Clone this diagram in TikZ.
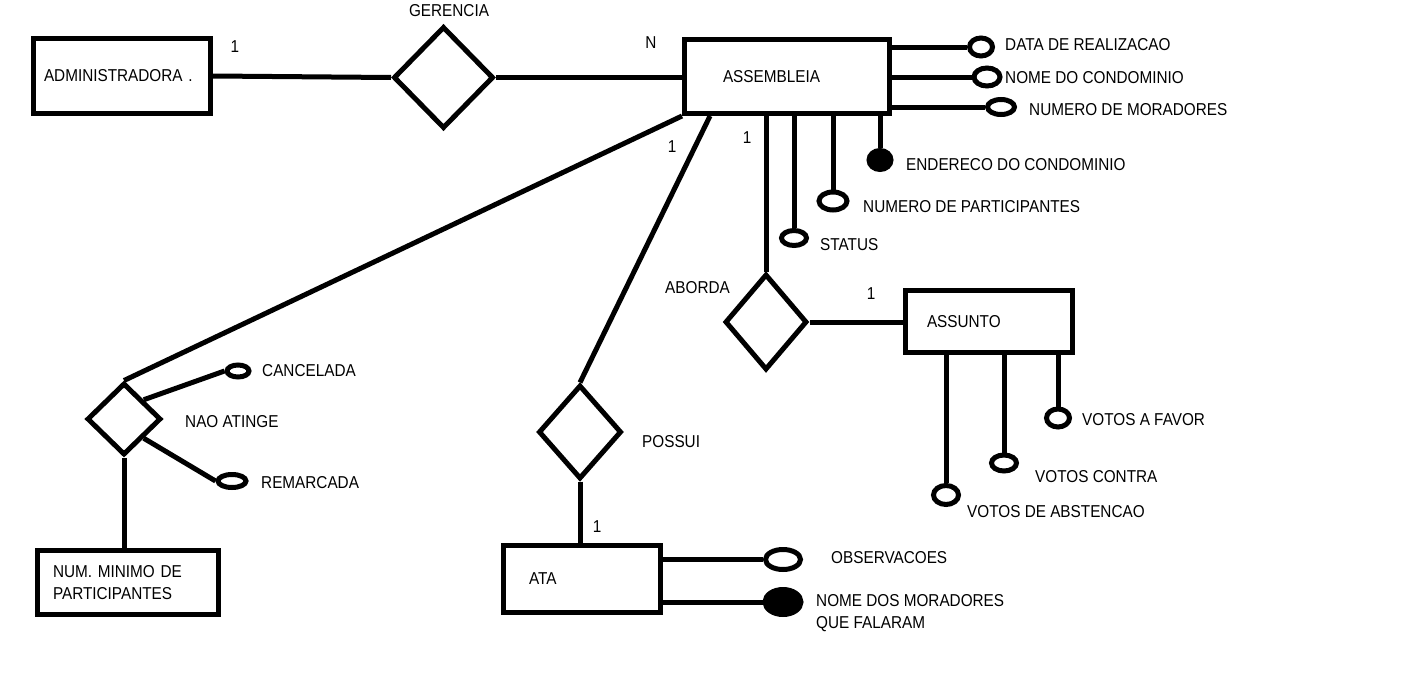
\documentclass[tikz,border=0pt]{standalone}
\usepackage{fontspec}
\setmainfont[FakeStretch=0.89]{Liberation Sans}
\usetikzlibrary{shapes.geometric}
\begin{document}
\begin{tikzpicture}[x=1pt,y=-1pt,
  every node/.style={font=\fontsize{17.2}{22}\selectfont},
  entity/.style={draw, rectangle, line width=5pt, inner ysep=0pt, align=left},
  rel/.style={draw, diamond, line width=5pt, inner sep=0pt, fill=white},
  attr/.style={draw, ellipse, line width=5pt, inner sep=0pt, fill=white},
  key/.style={draw, ellipse, line width=5pt, inner sep=0pt, fill=black},
  lbl/.style={anchor=west, inner sep=0pt},
  card/.style={inner sep=0pt},
  conn/.style={line width=5pt}
]
\useasboundingbox (0,0) rectangle (1416,672);

% entities
\node[entity, minimum width=177pt, minimum height=75pt, text width=156pt, inner xsep=10.5pt] (adm) at (122,76) {ADMINISTRADORA .};
\node[entity, minimum width=205pt, minimum height=74pt, text width=128pt, inner xsep=38.5pt] (asm) at (787,76.5) {ASSEMBLEIA};
\node[entity, minimum width=167pt, minimum height=62pt, text width=124pt, inner xsep=21.5pt] (asu) at (989,321.5) {ASSUNTO};
\node[entity, minimum width=181pt, minimum height=64pt, text width=150pt, inner xsep=15.5pt] (num) at (128,582.5) {NUM. MINIMO DE\\PARTICIPANTES};
\node[entity, minimum width=157pt, minimum height=67pt, text width=106pt, inner xsep=25.5pt] (ata) at (582,579) {ATA};

% relationships
\node[rel, minimum width=100pt, minimum height=102pt] (ger) at (443.5,77.5) {};
\node[rel, minimum width=82pt, minimum height=96pt] (abo) at (766,322) {};
\node[rel, minimum width=74pt, minimum height=72pt] (nao) at (124,419) {};
\node[rel, minimum width=83pt, minimum height=94pt] (pos) at (580,432) {};

% attributes
\node[attr, minimum width=23pt, minimum height=18pt] (a1) at (981,47) {};
\node[attr, minimum width=26pt, minimum height=18pt] (a2) at (987,77) {};
\node[attr, minimum width=27pt, minimum height=15pt] (a3) at (1001,107) {};
\node[key,  minimum width=22pt, minimum height=19pt] (a4) at (880,160) {};
\node[attr, minimum width=28pt, minimum height=18pt] (a5) at (833,201) {};
\node[attr, minimum width=25pt, minimum height=15pt] (a6) at (794,238) {};
\node[attr, minimum width=23pt, minimum height=18pt] (b1) at (1058,418) {};
\node[attr, minimum width=25pt, minimum height=16pt] (b2) at (1004,463) {};
\node[attr, minimum width=25pt, minimum height=19pt] (b3) at (946,495) {};
\node[attr, minimum width=22pt, minimum height=12pt] (c1) at (238,371) {};
\node[attr, minimum width=28pt, minimum height=13pt] (c2) at (232,481) {};
\node[attr, minimum width=35pt, minimum height=20pt] (d1) at (783,559.5) {};
\node[key,  minimum width=36pt, minimum height=25pt] (d2) at (783,602) {};

% connectors
\draw[conn] (adm.east) -- (ger.west);
\draw[conn] (ger.east) -- (ger.east -| asm.west);
\draw[conn] (asm.east |- a1.west) -- (a1.west);
\draw[conn] (asm.east |- a2.west) -- (a2.west);
\draw[conn] (asm.east |- a3.west) -- (a3.west);
\draw[conn] (a4.north |- asm.south) -- (a4.north);
\draw[conn] (a5.north |- asm.south) -- (a5.north);
\draw[conn] (a6.north |- asm.south) -- (a6.north);
\draw[conn] (abo.north |- asm.south) -- (abo.north);
\draw[conn] (abo.east) -- (abo.east -| asu.west);
\draw[conn] (b1.north |- asu.south) -- (b1.north);
\draw[conn] (b2.north |- asu.south) -- (b2.north);
\draw[conn] (b3.north |- asu.south) -- (b3.north);
\draw[conn] (asm.south west) -- (nao.north);
\draw[conn] (nao.north east) -- (c1.west);
\draw[conn] (nao.south east) -- (c2.west);
\draw[conn] (nao.south) -- (nao.south |- num.north);
\draw[conn] ([xshift=28pt]asm.south west) -- (pos.north);
\draw[conn] (pos.south) -- (pos.south |- ata.north);
\draw[conn] (ata.east |- d1.west) -- (d1.west);
\draw[conn] (ata.east |- d2.west) -- (d2.west);

% relationship names
\node[card] (tger) at (449,11) {GERENCIA};
\node[lbl] (tabo) at (665,288) {ABORDA};
\node[lbl] (tnao) at (185,422) {NAO ATINGE};
\node[lbl] (tpos) at (642,442) {POSSUI};

% cardinalities
\node[card] (k1) at (235,47) {1};
\node[card] (k2) at (651,43) {N};
\node[card] (k3) at (747,138) {1};
\node[card] (k4) at (672,147) {1};
\node[card] (k5) at (871,294) {1};
\node[card] (k6) at (597,527) {1};

% attribute names
\node[lbl] (l1) at (1005,45) {DATA DE REALIZACAO};
\node[lbl] (l2) at (1005,78) {NOME DO CONDOMINIO};
\node[lbl] (l3) at (1029,110) {NUMERO DE MORADORES};
\node[lbl] (l4) at (906,165) {ENDERECO DO CONDOMINIO};
\node[lbl] (l5) at (863,207) {NUMERO DE PARTICIPANTES};
\node[lbl] (l6) at (820,245) {STATUS};
\node[lbl] (m1) at (1082,420) {VOTOS A FAVOR};
\node[lbl] (m2) at (1035,477) {VOTOS CONTRA};
\node[lbl] (m3) at (967,512) {VOTOS DE ABSTENCAO};
\node[lbl] (n1) at (262,371) {CANCELADA};
\node[lbl] (n2) at (261,483) {REMARCADA};
\node[lbl] (o1) at (831,558) {OBSERVACOES};
\node[lbl, align=left] (o2) at (816,613) {NOME DOS MORADORES\\QUE FALARAM};
\end{tikzpicture}
\end{document}
